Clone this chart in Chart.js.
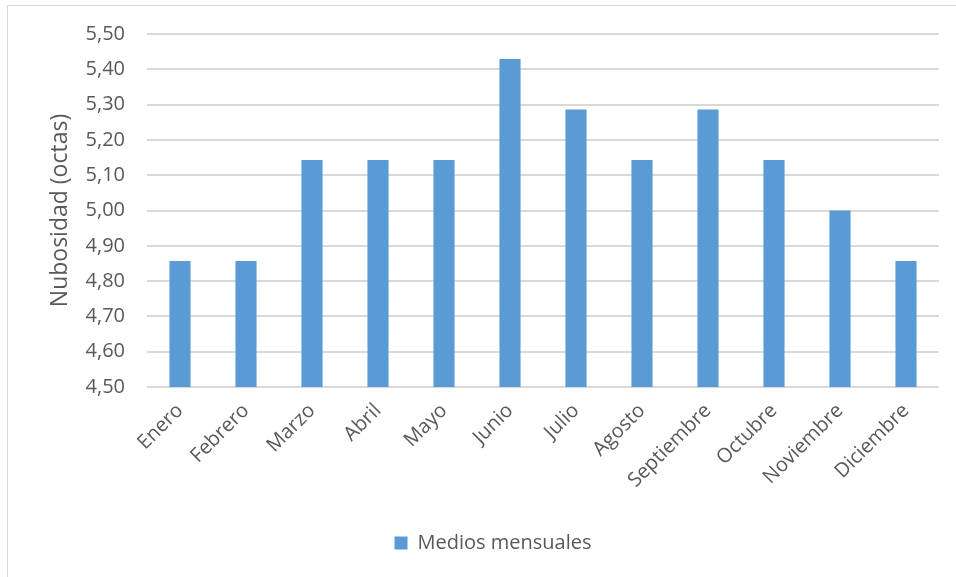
<!DOCTYPE html>
<html>
<head>
<meta charset="utf-8">
<script src="https://cdn.jsdelivr.net/npm/chart.js@4"></script>
<style>
  html, body { margin: 0; padding: 0; background: #ffffff; }
  #frame { position: absolute; left: 7px; top: 5px; width: 1000px; height: 1000px; border: 1px solid #d9d9d9; box-sizing: border-box; }
  #wrap { position: absolute; left: 0; top: 0; width: 956px; height: 577px; }
</style>
</head>
<body>
<div id="frame"></div>
<div id="wrap"><canvas id="c" width="956" height="577"></canvas></div>
<script>
const categories = ["Enero", "Febrero", "Marzo", "Abril", "Mayo", "Junio", "Julio", "Agosto", "Septiembre", "Octubre", "Noviembre", "Diciembre"];
const mediosMensuales = [4.857, 4.857, 5.143, 5.143, 5.143, 5.429, 5.286, 5.143, 5.286, 5.143, 5.0, 4.857];
const seriesName = "Medios mensuales";
const yTitle = "Nubosidad (octas)";
const yMin = 4.5, yMax = 5.5, yStep = 0.1;

const FONT = "'Open Sans', 'Liberation Sans', sans-serif";
const GREY = "#595959";

new Chart(document.getElementById('c'), {
  type: 'bar',
  data: {
    labels: categories,
    datasets: [{
      label: seriesName,
      data: mediosMensuales,
      backgroundColor: '#5b9bd5',
      borderWidth: 0,
      categoryPercentage: 1.0,
      barPercentage: 0.32
    }]
  },
  options: {
    responsive: false,
    animation: false,
    devicePixelRatio: 1,
    layout: { padding: { left: 47, right: 17, top: 34, bottom: 14 } },
    plugins: {
      legend: {
        position: 'bottom',
        labels: {
          color: GREY,
          font: { family: FONT, size: 20 },
          boxWidth: 13, boxHeight: 13,
          padding: 8
        }
      },
      tooltip: { enabled: false }
    },
    scales: {
      x: {
        grid: { display: false, drawTicks: false },
        border: { display: false },
        ticks: {
          color: GREY,
          font: { family: FONT, size: 20 },
          maxRotation: 45, minRotation: 45,
          padding: 12
        },
        afterFit: (s) => { s.height = 138; }
      },
      y: {
        min: yMin, max: yMax,
        grid: { color: '#d9d9d9', lineWidth: 2, drawTicks: false },
        border: { display: false },
        ticks: {
          stepSize: yStep,
          color: GREY,
          font: { family: FONT, size: 20 },
          padding: 22,
          callback: (v) => Number(v).toFixed(2).replace('.', ',')
        },
        title: {
          display: true,
          text: yTitle,
          color: GREY,
          font: { family: FONT, size: 23 },
          padding: { top: 0, bottom: 0 }
        },
        afterFit: (s) => { s.width = 100; }
      }
    }
  }
});
</script>
</body>
</html>
